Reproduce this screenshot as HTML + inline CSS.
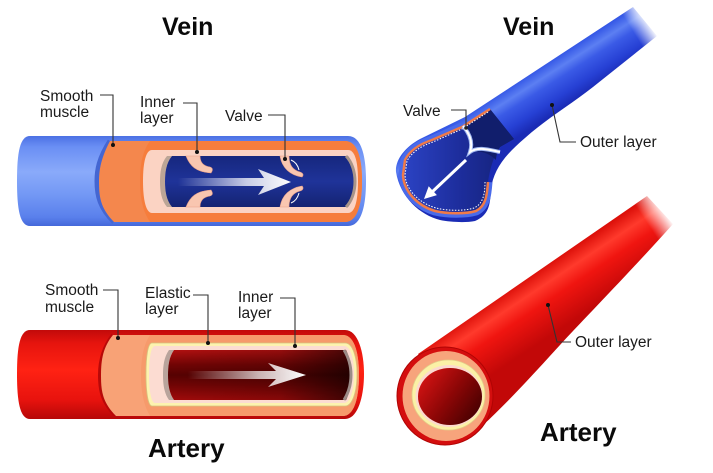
<!DOCTYPE html>
<html><head><meta charset="utf-8">
<style>
html,body{margin:0;padding:0;background:#fff;}
svg{display:block;}
text{font-family:"Liberation Sans",Arial,sans-serif;fill:#1a1a1a;}
.lb{font-size:15.5px;}
.tt{font-size:25px;font-weight:bold;fill:#0a0a0a;}
.ln{fill:none;stroke:#333;stroke-width:1.1;}
</style></head>
<body>
<svg width="713" height="473" viewBox="0 0 713 473" xmlns="http://www.w3.org/2000/svg">
<defs>
  <linearGradient id="vb" x1="0" y1="0" x2="0" y2="1">
    <stop offset="0" stop-color="#4c71e4"/><stop offset="0.12" stop-color="#6a8ff4"/>
    <stop offset="0.4" stop-color="#8aaafa"/><stop offset="0.65" stop-color="#7398f5"/>
    <stop offset="0.9" stop-color="#5a80ec"/><stop offset="1" stop-color="#4468da"/>
  </linearGradient>
  <linearGradient id="vl" x1="0" y1="0" x2="0" y2="1">
    <stop offset="0" stop-color="#16277e"/><stop offset="0.5" stop-color="#1f3399"/><stop offset="1" stop-color="#142372"/>
  </linearGradient>
  <linearGradient id="rb" x1="0" y1="0" x2="0" y2="1">
    <stop offset="0" stop-color="#c20a0a"/><stop offset="0.15" stop-color="#e6140e"/>
    <stop offset="0.45" stop-color="#ff2213"/><stop offset="0.78" stop-color="#e8130e"/><stop offset="1" stop-color="#b60808"/>
  </linearGradient>
  <linearGradient id="rl" x1="0" y1="0" x2="0" y2="1">
    <stop offset="0" stop-color="#b01010"/><stop offset="0.3" stop-color="#700404"/>
    <stop offset="0.5" stop-color="#560202"/><stop offset="0.7" stop-color="#700404"/><stop offset="1" stop-color="#a00a0a"/>
  </linearGradient>
  <linearGradient id="rlh" x1="174" y1="0" x2="351" y2="0" gradientUnits="userSpaceOnUse">
    <stop offset="0" stop-color="#000" stop-opacity="0"/><stop offset="0.6" stop-color="#000" stop-opacity="0.15"/><stop offset="1" stop-color="#000" stop-opacity="0.6"/>
  </linearGradient>
  <linearGradient id="wa" x1="178" y1="0" x2="292" y2="0" gradientUnits="userSpaceOnUse">
    <stop offset="0" stop-color="#fff" stop-opacity="0"/><stop offset="0.6" stop-color="#fff" stop-opacity="0.75"/><stop offset="1" stop-color="#fff" stop-opacity="1"/>
  </linearGradient>
  <linearGradient id="wa2" x1="188" y1="0" x2="306" y2="0" gradientUnits="userSpaceOnUse">
    <stop offset="0" stop-color="#fff" stop-opacity="0"/><stop offset="0.6" stop-color="#fff" stop-opacity="0.7"/><stop offset="1" stop-color="#fff" stop-opacity="1"/>
  </linearGradient>
  <linearGradient id="rvb" x1="560" y1="55" x2="585" y2="94" gradientUnits="userSpaceOnUse">
    <stop offset="0" stop-color="#3558e6"/><stop offset="0.22" stop-color="#5c7ff2"/>
    <stop offset="0.42" stop-color="#3a5ae6"/><stop offset="0.75" stop-color="#2640d4"/><stop offset="1" stop-color="#1a2bb5"/>
  </linearGradient>
  <linearGradient id="rvf" x1="400" y1="0" x2="500" y2="0" gradientUnits="userSpaceOnUse">
    <stop offset="0" stop-color="#2c44c6"/><stop offset="0.6" stop-color="#1d2d9c"/><stop offset="1" stop-color="#16247f"/>
  </linearGradient>
  <linearGradient id="fadeV" x1="632" y1="30" x2="648" y2="20" gradientUnits="userSpaceOnUse">
    <stop offset="0" stop-color="#fff" stop-opacity="0"/><stop offset="1" stop-color="#fff" stop-opacity="1"/>
  </linearGradient>
  <linearGradient id="rab" x1="560" y1="256" x2="594" y2="307" gradientUnits="userSpaceOnUse">
    <stop offset="0" stop-color="#dc100a"/><stop offset="0.25" stop-color="#ff3a2c"/>
    <stop offset="0.5" stop-color="#f01510"/><stop offset="1" stop-color="#c20808"/>
  </linearGradient>
  <linearGradient id="fadeA" x1="645" y1="220" x2="663" y2="208" gradientUnits="userSpaceOnUse">
    <stop offset="0" stop-color="#fff" stop-opacity="0"/><stop offset="1" stop-color="#fff" stop-opacity="1"/>
  </linearGradient>
  <linearGradient id="lum" x1="420" y1="375" x2="482" y2="420" gradientUnits="userSpaceOnUse">
    <stop offset="0" stop-color="#d81414"/><stop offset="0.5" stop-color="#8a0606"/><stop offset="1" stop-color="#3a0000"/>
  </linearGradient>
</defs>

<!-- ===== LEFT VEIN ===== -->
<text class="tt" x="162" y="35">Vein</text>
<path d="M30,136 L348,136 C362,136 366,158 366,181 C366,204 362,226 348,226 L30,226 C20,226 17,210 17,181 C17,152 20,136 30,136 Z" fill="url(#vb)"/>
<path d="M110,141 C99,158 97,170 97,181 C97,196 100,208 114,222" fill="none" stroke="#4466d2" stroke-width="5"/>
<path d="M110,141 L345,141 C358,141 362,160 362,181 C362,202 358,222 345,222 L114,222 C100,208 99,196 99,181 C99,170 101,158 110,141 Z" fill="#f4874d"/>
<path d="M150,141 L345,141 C358,141 362,160 362,181 C362,202 358,222 345,222 L150,222 C142,210 140,196 140,181 C140,166 142,152 150,141 Z" fill="#f67d3c"/>
<path d="M152,150 L348,150 C356,150 358,165 358,181 C358,197 356,213 348,213 L152,213 C146,213 143,200 143,181 C143,162 146,150 152,150 Z" fill="#fbd3c3"/>
<path d="M172,156 C166,163 165,173 165,181.5 C165,190 166,200 172,207 L167,207 C161,200 160,190 160,181.5 C160,173 161,163 167,156 Z" fill="#bca596"/>
<path d="M172,156 L348,156 C353,162 355,172 355,181.5 C355,191 353,201 348,207 L172,207 C166,200 165,190 165,181.5 C165,173 166,163 172,156 Z" fill="url(#vl)"/>
<path d="M346,156 C352,162 355,172 355,181.5 C355,191 352,201 346,207" fill="none" stroke="#a89488" stroke-width="3"/>
<!-- valves -->
<path d="M186,156 C190,166 196,172 211,173 C213,170 213,168 210,167 C203,166 200,162 200,156 Z" fill="#f9c6b0" stroke="#e9a088" stroke-width="0.6"/>
<path d="M186,207 C190,197 196,191 211,190 C213,193 213,195 210,196 C203,197 200,201 200,207 Z" fill="#f9c6b0" stroke="#e9a088" stroke-width="0.6"/>
<path d="M280,156 C282,168 290,175 302,177 C304,175 303,173 300,172 C292,170 289,164 289,156 Z" fill="#f9c6b0" stroke="#e9a088" stroke-width="0.6"/>
<path d="M280,207 C282,195 290,188 302,186 C304,188 303,190 300,191 C292,193 289,199 289,207 Z" fill="#f9c6b0" stroke="#e9a088" stroke-width="0.6"/>
<path d="M291,160 C296,162 298,166 299,170" fill="none" stroke="#fff" stroke-width="1"/>
<path d="M291,203 C296,201 298,197 299,193" fill="none" stroke="#fff" stroke-width="1"/>
<!-- arrow -->
<path d="M178,178 L264,178 L258,169 L291,182 L258,195 L264,186 L178,186 Z" fill="url(#wa)"/>
<!-- labels -->
<text class="lb" x="40" y="101">Smooth</text><text class="lb" x="40" y="117">muscle</text>
<path class="ln" d="M100,95 H113 V145"/><circle cx="113" cy="145" r="2" fill="#111"/>
<text class="lb" x="140" y="107">Inner</text><text class="lb" x="140" y="123">layer</text>
<path class="ln" d="M183,103 H197 V152"/><circle cx="197" cy="152" r="2" fill="#111"/>
<text class="lb" x="225" y="121">Valve</text>
<path class="ln" d="M268,115 H285 V159"/><circle cx="285" cy="159" r="2" fill="#111"/>

<!-- ===== LEFT ARTERY ===== -->
<path d="M30,330 L345,330 C358,330 364,352 364,374 C364,396 358,419 345,419 L30,419 C20,419 17,402 17,374 C17,346 20,330 30,330 Z" fill="url(#rb)"/>
<path d="M113,335 C103,348 100,362 100,375 C100,390 102,402 116,416" fill="none" stroke="#b80808" stroke-width="4"/>
<path d="M113,335 L343,335 C355,335 359,355 359,375 C359,395 355,416 343,416 L116,416 C102,402 101,390 101,375 C101,360 103,347 113,335 Z" fill="#f8a276"/>
<path d="M150,335 L343,335 C355,335 359,355 359,375 C359,395 355,416 343,416 L150,416 C143,404 141,390 141,375 C141,360 143,346 150,335 Z" fill="#f69a6b"/>
<path d="M152,343 L345,343 C353,343 357,358 357,374 C357,390 353,406 345,406 L152,406 C148,406 146,392 146,374 C146,356 148,343 152,343 Z" fill="#fdf3b0" stroke="#d6c67e" stroke-width="0.8"/>
<path d="M155,346 L344,346 C351,346 354,360 354,374 C354,388 351,403 344,403 L155,403 C151,403 149,390 149,374 C149,358 151,346 155,346 Z" fill="#fcdcd2"/>
<path d="M174,350 C169,357 168,366 168,375 C168,384 169,393 174,400 L169,400 C164,393 163,384 163,375 C163,366 164,357 169,350 Z" fill="#b9a49c"/>
<path d="M174,350 L346,350 C350,358 351,366 351,375 C351,384 350,392 346,400 L174,400 C169,393 168,384 168,375 C168,366 169,357 174,350 Z" fill="url(#rl)"/>
<path d="M174,350 L346,350 C350,358 351,366 351,375 C351,384 350,392 346,400 L174,400 C169,393 168,384 168,375 C168,366 169,357 174,350 Z" fill="url(#rlh)"/>
<path d="M344,350 C349,358 351,366 351,375 C351,384 349,392 344,400" fill="none" stroke="#9c8c88" stroke-width="3"/>
<path d="M188,371 L276,371 L268,363 L306,375 L268,387 L276,379 L188,379 Z" fill="url(#wa2)"/>
<text class="lb" x="45" y="295">Smooth</text><text class="lb" x="45" y="312">muscle</text>
<path class="ln" d="M103,290 H118 V338"/><circle cx="118" cy="338" r="2" fill="#111"/>
<text class="lb" x="145" y="298">Elastic</text><text class="lb" x="145" y="314">layer</text>
<path class="ln" d="M193,295 H208 V343"/><circle cx="208" cy="343" r="2" fill="#111"/>
<text class="lb" x="238" y="302">Inner</text><text class="lb" x="238" y="318">layer</text>
<path class="ln" d="M280,298 H295 V346"/><circle cx="295" cy="346" r="2" fill="#111"/>
<text class="tt" x="148" y="457" style="font-size:26px">Artery</text>

<!-- ===== RIGHT VEIN ===== -->
<text class="tt" x="503" y="35">Vein</text>
<path d="M633,7 L657,36 L593,87 C570,105 545,120 525,138 C505,155 493,170 491,190 C490,205 489,215 475,221 C465,223 450,222 440,220 C420,215 400,197 396,172 C395,160 405,147 420,139 L465,117 Z" fill="url(#rvb)"/>
<path d="M462,127 L432,140 C420,144 410,150 405,160 L403,175 C404,192 418,206 435,211 C448,214 466,214 476,211 C486,206 487,195 488,182" fill="none" stroke="#4a6bea" stroke-width="9" stroke-linejoin="round"/>
<path d="M405,160 C410,150 420,144 432,140 L462,127 L490,109 L514,139 L500,147 C494,155 490,168 488,182 C487,195 486,206 476,211 C466,214 448,214 435,211 C418,206 404,192 403,175 Z" fill="url(#rvf)"/>
<path d="M462,127 L490,109 L514,139 L500,147 C497,152 496,157 496,160 C488,152 478,150 470,153 C472,145 469,135 462,127 Z" fill="#111e6c"/>
<path d="M490,109 L462,127 L432,140 C420,144 410,150 405,160 L403,175 C404,192 418,206 435,211 C448,214 466,214 476,211 C486,206 487,195 488,182" fill="none" stroke="#f07a48" stroke-width="2.5" stroke-linejoin="round"/>
<path d="M488,112 L462,129 L433,142 C421,146 412,152 407,161 L405,175 C406,190 419,203 436,208 C448,211 465,211 474,208 C483,204 485,194 485,182" fill="none" stroke="#fff" stroke-width="1" stroke-dasharray="1.5 1.5"/>
<path d="M463,126 C470,134 473,143 470,152 C478,146 490,150 500,152" fill="none" stroke="#9fb6f0" stroke-width="4"/>
<path d="M463,126 C470,134 473,143 470,152 C478,146 490,150 500,152" fill="none" stroke="#fff" stroke-width="2"/>
<path d="M466,160 L431,193" stroke="#fff" stroke-width="3"/>
<path d="M424,199 L436.9,195.1 L428.7,186.3 Z" fill="#fff"/>
<polygon points="600,0 713,0 713,80 640,80" fill="url(#fadeV)"/>
<text class="lb" x="403" y="116">Valve</text>
<path class="ln" d="M451,110 H466 V128"/><circle cx="466" cy="128" r="1.8" fill="#222"/>
<path class="ln" d="M552,105 L560,142 H576"/><circle cx="552" cy="105" r="2" fill="#111"/>
<text class="lb" x="580" y="147">Outer layer</text>

<!-- ===== RIGHT ARTERY ===== -->
<path d="M418,354 L647,196 L673,224 C630,272 585,318 560,345 C530,378 505,405 482,426 Z" fill="url(#rab)"/>
<polygon points="620,170 713,170 713,260 650,260" fill="url(#fadeA)"/>
<ellipse cx="445" cy="396" rx="48" ry="49" fill="#d40e0e" stroke="#b00404" stroke-width="1"/>
<ellipse cx="446" cy="396" rx="43.5" ry="45" fill="#f7a47c"/>
<ellipse cx="448.5" cy="395" rx="36.5" ry="35" fill="#fbf1a6" stroke="#e2d18a" stroke-width="0.8"/>
<ellipse cx="449" cy="396" rx="33.5" ry="31" fill="#fcd9cf"/>
<ellipse cx="450" cy="396.5" rx="32" ry="28.5" fill="url(#lum)"/>
<path class="ln" d="M548,305 L557,342 H571"/><circle cx="548" cy="305" r="2" fill="#111"/>
<text class="lb" x="575" y="347">Outer layer</text>
<text class="tt" x="540" y="441" style="font-size:26px">Artery</text>
</svg>
</body></html>
